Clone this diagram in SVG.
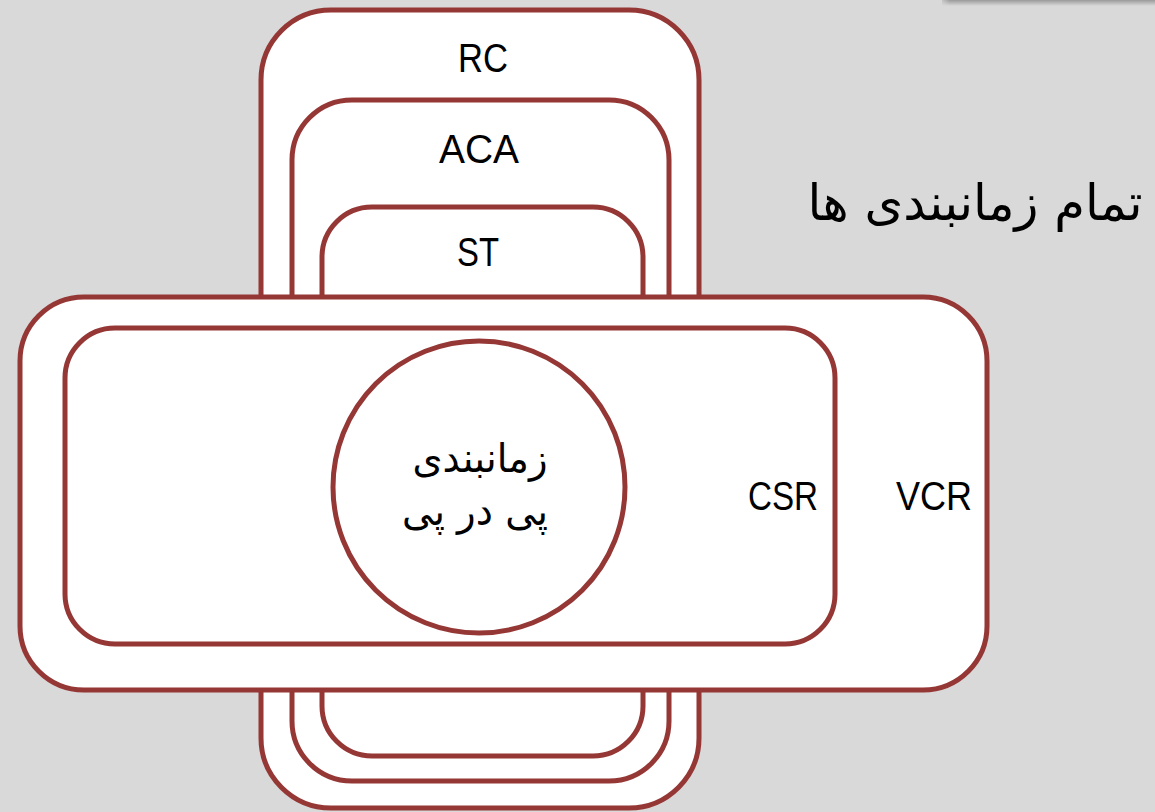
<svg xmlns="http://www.w3.org/2000/svg" width="1155" height="812" viewBox="0 0 1155 812">
  <defs>
    <linearGradient id="shadow" x1="0" y1="0" x2="0" y2="1">
      <stop offset="0" stop-color="#9a9a9a"/>
      <stop offset="1" stop-color="#d9d9d9"/>
    </linearGradient>
    <linearGradient id="shadowL" x1="0" y1="0" x2="1" y2="0">
      <stop offset="0" stop-color="#d9d9d9" stop-opacity="1"/>
      <stop offset="1" stop-color="#d9d9d9" stop-opacity="0"/>
    </linearGradient>
  </defs>
  <style>
    .box { fill: #ffffff; stroke: #953735; stroke-width: 5; }
    .lbl { font-family: "Liberation Sans", "DejaVu Sans", sans-serif; font-size: 40px; fill: #000; text-anchor: middle; }
    .fa { font-family: "DejaVu Sans", "Liberation Sans", sans-serif; fill: #000; text-anchor: middle; }
  </style>
  <rect x="0" y="0" width="1155" height="812" fill="#d9d9d9"/>
  <g id="topbar">
    <rect x="942" y="0" width="213" height="6" fill="url(#shadow)"/>
    <rect x="938" y="0" width="12" height="6" fill="url(#shadowL)"/>
  </g>
  <g id="rc">
    <rect class="box" x="261" y="10" width="438" height="798" rx="70" ry="70"/>
    <text class="lbl" x="483" y="72" textLength="50" lengthAdjust="spacingAndGlyphs">RC</text>
  </g>
  <g id="aca">
    <rect class="box" x="292" y="100" width="377" height="681" rx="60" ry="60"/>
    <text class="lbl" x="479" y="163" textLength="80" lengthAdjust="spacingAndGlyphs">ACA</text>
  </g>
  <g id="st">
    <rect class="box" x="322" y="207" width="321" height="549" rx="50" ry="50"/>
    <text class="lbl" x="478" y="266" textLength="42" lengthAdjust="spacingAndGlyphs">ST</text>
  </g>
  <g id="vcr">
    <rect class="box" x="20" y="297" width="967" height="393" rx="64" ry="64"/>
    <text class="lbl" x="934" y="510" textLength="76" lengthAdjust="spacingAndGlyphs">VCR</text>
  </g>
  <g id="csr">
    <rect class="box" x="65" y="328" width="770" height="316" rx="50" ry="50"/>
    <text class="lbl" x="783" y="510" textLength="70" lengthAdjust="spacingAndGlyphs">CSR</text>
  </g>
  <g id="sequential">
    <circle class="box" cx="479" cy="487" r="146"/>
    <text class="fa" x="480" y="472" font-size="40" textLength="135" lengthAdjust="spacingAndGlyphs">زمانبندی</text>
    <text class="fa" x="475" y="525" font-size="40" textLength="146" lengthAdjust="spacingAndGlyphs">پی در پی</text>
  </g>
  <g id="title">
    <text class="fa" x="975" y="220" font-size="50" textLength="335" lengthAdjust="spacingAndGlyphs">تمام زمانبندی ها</text>
  </g>
  <g id="connectors"/>
</svg>
